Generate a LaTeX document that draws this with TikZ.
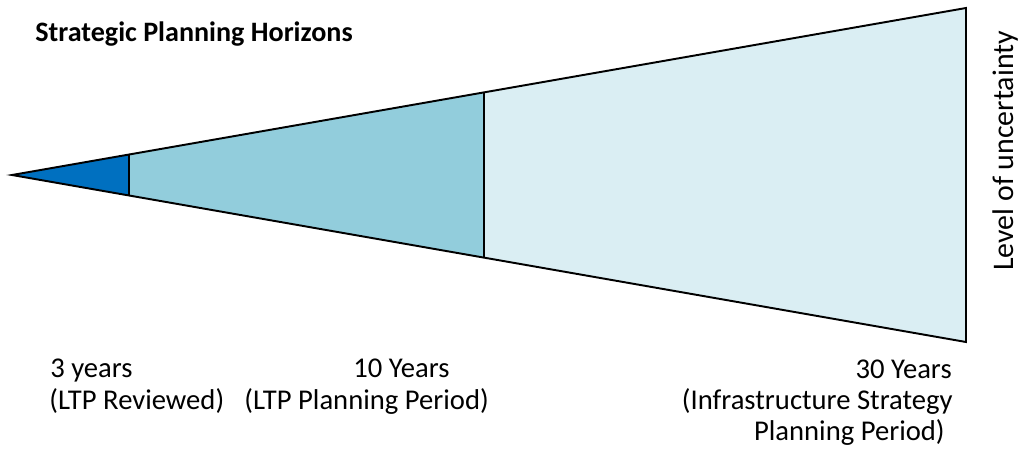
\documentclass[tikz,border=0pt]{standalone}
\usepackage{fontspec}
\setmainfont{Carlito}
\usepackage{xcolor}
\definecolor{darkblue}{HTML}{0070C0}
\definecolor{midaqua}{HTML}{92CDDC}
\definecolor{paleaqua}{HTML}{DAEEF3}
\usetikzlibrary{positioning,calc}

\begin{document}
\begin{tikzpicture}[x=0.02cm,y=-0.02cm,
    wedge/.style={draw=black,line width=1.1pt},
    lbl/.style={inner sep=0pt,font=\fontsize{16.3}{19}\selectfont}]
    \useasboundingbox (0,0) rectangle (1018,450);

    % corners of the wedge
    \coordinate (apex) at (12,175);
    \coordinate (t1) at (129,154.5);
    \coordinate (b1) at (129,195.5);
    \coordinate (t2) at (484,92.4);
    \coordinate (b2) at (484,257.6);
    \coordinate (t3) at (966,8);
    \coordinate (b3) at (966,342);

    % fills
    \fill [darkblue] (apex) -- (t1) -- (b1) -- cycle;
    \fill [midaqua] (t1) -- (t2) -- (b2) -- (b1) -- cycle;
    \fill [paleaqua] (t2) -- (t3) -- (b3) -- (b2) -- cycle;

    % outline and dividers
    \draw [wedge] (apex) -- (t3) -- (b3) -- cycle;
    \draw [wedge] (t1) -- (b1);
    \draw [wedge] (t2) -- (b2);

    % title
    \node [anchor=base west,inner sep=0pt,font=\fontsize{16}{19}\selectfont\bfseries] (title) at (35,41) {Strategic Planning Horizons};

    % side label
    \node [anchor=base west,inner sep=0pt,rotate=90,font=\fontsize{17}{20}\selectfont] (uncert) at (1013,271) {Level of uncertainty};

    % period labels
    \node [lbl,anchor=base west] (three) at (50,377) {3 years};
    \node [lbl,anchor=base west] (threesub) at (49,409) {(LTP Reviewed)};
    \node [lbl,anchor=base west] (ten) at (353,377) {10 Years};
    \node [lbl,anchor=base west] (tensub) at (244,409) {(LTP Planning Period)};
    \node [lbl,anchor=base east] (thirty) at (952,378) {30 Years};
    \node [lbl,anchor=base east] (thirtysub) at (953,409) {(Infrastructure Strategy};
    \node [lbl,anchor=base east] (thirtysubb) at (945,440) {Planning Period)};
\end{tikzpicture}
\end{document}
